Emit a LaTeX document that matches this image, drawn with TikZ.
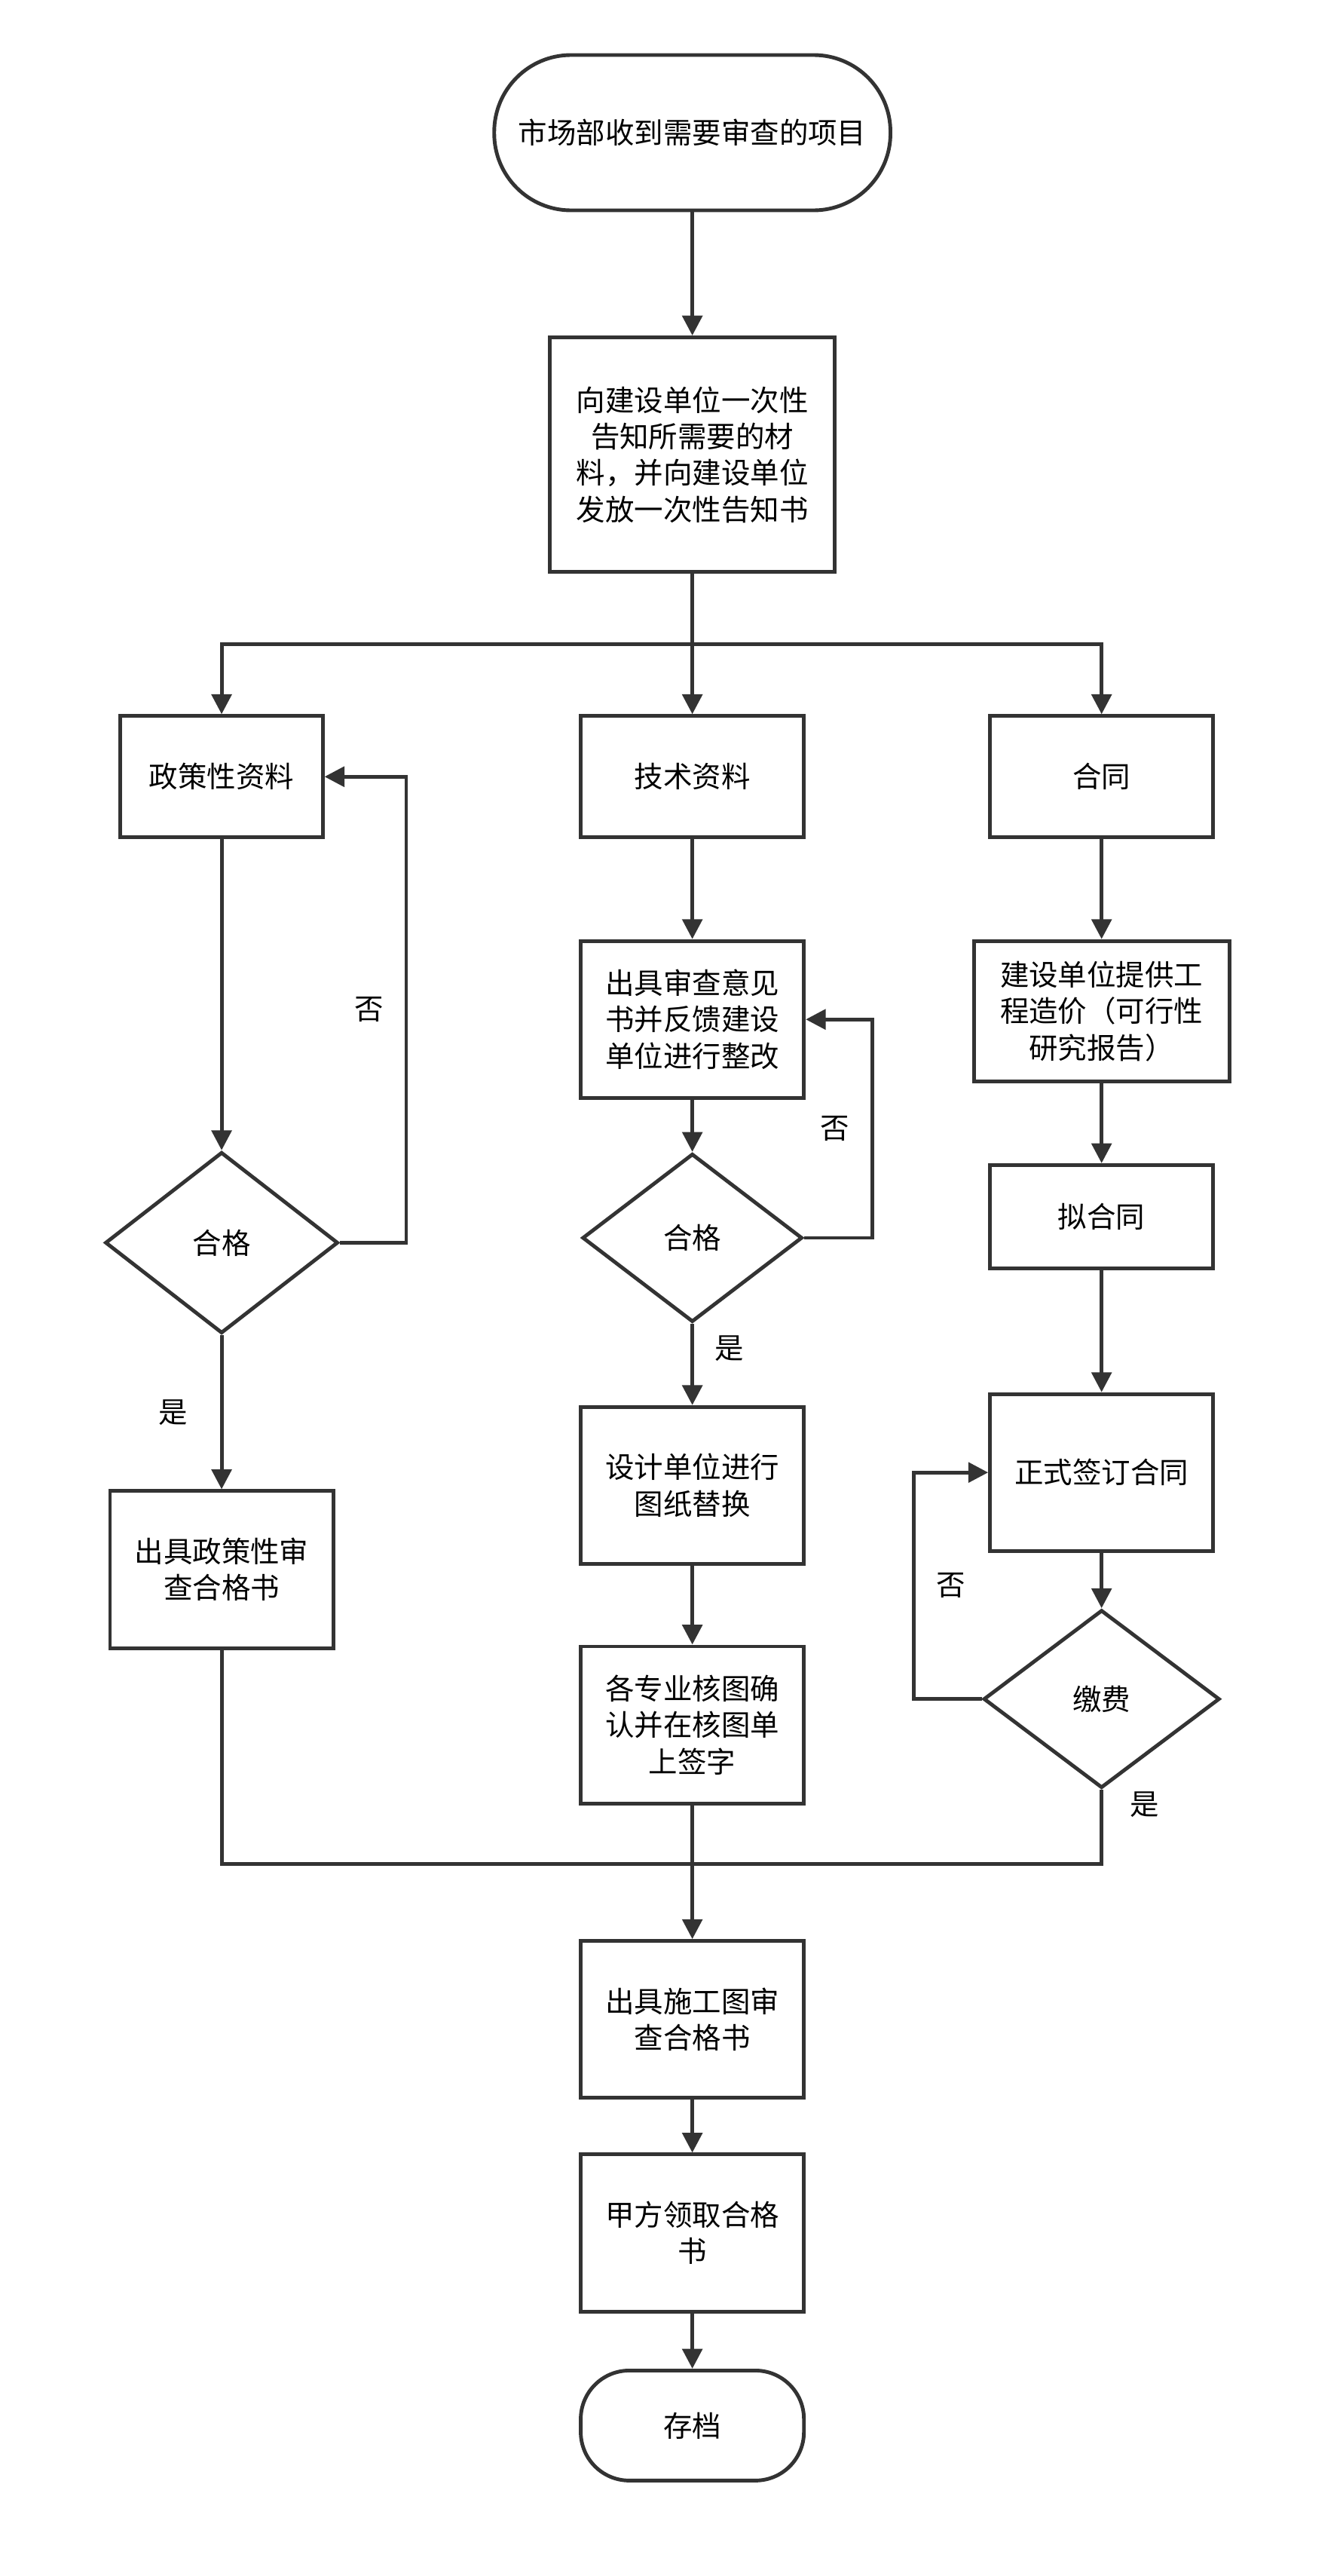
\documentclass[tikz,border=0pt]{standalone}
\usepackage{fontspec}
\setmainfont{Noto Sans CJK SC}
\usetikzlibrary{shapes,arrows.meta,positioning,calc}
\begin{document}
\begin{tikzpicture}[
    x=0.02cm, y=-0.02cm,
    font=\fontsize{10.2}{12.8}\selectfont,
    block/.style={
        rectangle,
        draw=black!80,
        line width=1.3pt,
        align=center,
        inner sep=0pt,
        fill=white
    },
    terminal/.style={
        rectangle,
        draw=black!80,
        line width=1.3pt,
        align=center,
        rounded corners=0.6cm,
        inner sep=0pt,
        fill=white
    },
    decision/.style={
        diamond,
        draw=black!80,
        line width=1.3pt,
        align=center,
        inner sep=0pt,
        aspect=1.3,
        fill=white
    },
    line/.style={draw=black!80, line width=1.3pt, -{Triangle[length=7pt,width=7pt]}},
    plain line/.style={draw=black!80, line width=1.3pt}
]
\useasboundingbox (0,0) rectangle (830,1592);

% Start
\node [terminal, rounded corners=0.95cm, minimum width=4.9cm, minimum height=1.92cm] (start) at (428,82) {市场部收到需要审查的项目};
\node [block, minimum width=3.52cm, minimum height=2.9cm] (notify) at (428,281) {向建设单位一次性\\告知所需要的材\\料，并向建设单位\\发放一次性告知书};

% Three branches
\node [block, minimum width=2.5cm, minimum height=1.5cm] (policy) at (137,480) {政策性资料};
\node [block, minimum width=2.76cm, minimum height=1.5cm] (tech) at (428,480) {技术资料};
\node [block, minimum width=2.76cm, minimum height=1.5cm] (contract) at (681,480) {合同};

% Policy branch
\node [decision, minimum width=2.88cm, minimum height=2.24cm] (check1) at (137,768) {合格};
\node [block, minimum width=2.76cm, minimum height=1.94cm] (policyok) at (137,970) {出具政策性审\\查合格书};

% Technical branch
\node [block, minimum width=2.76cm, minimum height=1.94cm] (opinion) at (428,630) {出具审查意见\\书并反馈建设\\单位进行整改};
\node [decision, minimum width=2.72cm, minimum height=2.08cm] (check2) at (428,765) {合格};
\node [block, minimum width=2.76cm, minimum height=1.94cm] (replace) at (428,918) {设计单位进行\\图纸替换};
\node [block, minimum width=2.76cm, minimum height=1.94cm] (sign) at (428,1066) {各专业核图确\\认并在核图单\\上签字};

% Contract branch
\node [block, minimum width=3.16cm, minimum height=1.74cm] (cost) at (681,625) {建设单位提供工\\程造价（可行性\\研究报告）};
\node [block, minimum width=2.76cm, minimum height=1.28cm] (draft) at (681,752) {拟合同};
\node [block, minimum width=2.76cm, minimum height=1.94cm] (formal) at (681,910) {正式签订合同};
\node [decision, minimum width=2.92cm, minimum height=2.2cm] (pay) at (681,1050) {缴费};

% Final steps
\node [block, minimum width=2.76cm, minimum height=1.94cm] (cert) at (428,1248) {出具施工图审\\查合格书};
\node [block, minimum width=2.76cm, minimum height=1.94cm] (receive) at (428,1380) {甲方领取合格\\书};
\node [terminal, minimum width=2.76cm, minimum height=1.36cm] (archive) at (428,1499) {存档};

\coordinate (split) at (428,398);
\coordinate (merge) at (428,1152);

% Connections
\draw [line] (start) -- (notify);
\draw [plain line] (notify) -- (split);
\draw [line] (split) -- (tech);
\draw [line] (split) -| (policy);
\draw [line] (split) -| (contract);

\draw [line] (policy) -- (check1);
\draw [line] (check1.east) -- ++(41,0) |- (policy.east) node[pos=0.25, left=4pt] {否};
\draw [line] (check1) -- node[left=8pt] {是} (policyok);

\draw [line] (tech) -- (opinion);
\draw [line] (opinion) -- (check2);
\draw [line] (check2.east) -- ++(42,0) |- (opinion.east) node[pos=0.25, left=4pt] {否};
\draw [line] (check2) -- node[pos=0.3, right=4pt] {是} (replace);
\draw [line] (replace) -- (sign);

\draw [line] (contract) -- (cost);
\draw [line] (cost) -- (draft);
\draw [line] (draft) -- (formal);
\draw [line] (formal) -- (pay);
\draw [line] (pay.west) -- ++(-42,0) |- (formal.west) node[pos=0.25, right=4pt] {否};

\draw [plain line] (policyok) |- (merge);
\draw [plain line] (pay.south) |- (merge) node[pos=0.1, right=6pt] {是};
\draw [line] (sign) -- (cert);
\draw [line] (cert) -- (receive);
\draw [line] (receive) -- (archive);

\end{tikzpicture}
\end{document}
